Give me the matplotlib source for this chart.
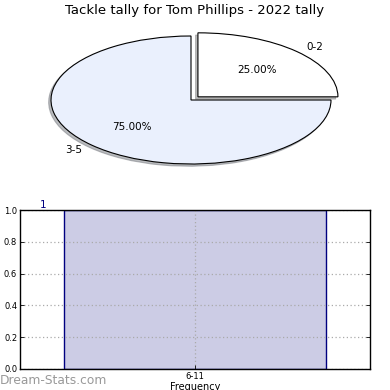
import matplotlib
matplotlib.use("Agg")
import matplotlib.pyplot as plt

# Pie: tackle ranges and their share of games
pie_labels = ["0-2", "3-5"]
pie_values = [25.0, 75.0]
pie_colors = ["#ffffff", "#eaf0fd"]

# Histogram-style bar: frequency per tackle range
bar_categories = ["6-11"]
bar_values = [1]

title = "Tackle tally for Tom Phillips - 2022 tally"

fig = plt.figure(figsize=(3.9, 3.9), dpi=100)
fig.patch.set_facecolor("white")

# --- pie panel ---
ax1 = fig.add_axes([16 / 390, 1 - 180 / 390, 350 / 390, 160 / 390])
wedges, texts, autotexts = ax1.pie(
    pie_values,
    labels=pie_labels,
    colors=pie_colors,
    explode=[0.07, 0.0],
    autopct="%1.2f%%",
    shadow=dict(ox=-0.012, oy=-0.025, shade=0.5),
    startangle=0,
    wedgeprops=dict(edgecolor="black", linewidth=0.8),
    textprops=dict(fontsize=7.5),
)
ax1.set_aspect("auto")
ax1.set_xlim(-1.25, 1.25)
ax1.set_ylim(-1.25, 1.25)
ax1.set_frame_on(False)
ax1.set_xticks([])
ax1.set_yticks([])
fig.text(195 / 390, 1 - 10.5 / 390, title, ha="center", va="center", fontsize=9.5)

# --- bar panel ---
ax2 = fig.add_axes([20 / 390, 1 - 369 / 390, 350 / 390, 159 / 390])
xpos = list(range(len(bar_categories)))
ax2.bar(xpos, bar_values, width=0.75, color="#ccccE5", edgecolor="#000080",
        linewidth=1.0, zorder=2)
for x, v in zip(xpos, bar_values):
    ax2.text(x - 0.435, v, str(v), ha="center", va="bottom", color="#000080",
             fontsize=7.5)
ax2.set_xlim(-0.5, 0.5)
ax2.set_ylim(0, 1.0)
ax2.set_xticks(xpos)
ax2.set_xticklabels(bar_categories, fontsize=6)
ax2.set_yticks([0.0, 0.2, 0.4, 0.6, 0.8, 1.0])
ax2.set_yticklabels(["0.0", "0.2", "0.4", "0.6", "0.8", "1.0"], fontsize=6)
ax2.tick_params(axis="both", direction="in", length=3, width=0.6, pad=2,
                right=True, top=False)
ax2.grid(True, linestyle=(0, (1, 2)), color="#aaaaaa", linewidth=0.9, zorder=3)
ax2.set_axisbelow(False)
ax2.set_xlabel("Frequency", fontsize=7, labelpad=1)
for s in ax2.spines.values():
    s.set_linewidth(1.0)
    s.set_zorder(5)

fig.text(0, 1 - 381 / 390, "Dream-Stats.com", ha="left", va="center",
         fontsize=8.8, color="#999999")

fig.savefig("out.png", dpi=100, facecolor="white")
